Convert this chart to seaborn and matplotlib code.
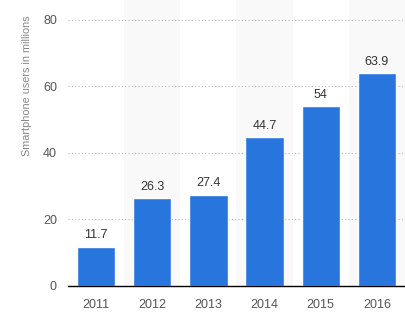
import matplotlib
matplotlib.use("Agg")
import matplotlib.pyplot as plt
import seaborn as sns
import pandas as pd

years = ["2011", "2012", "2013", "2014", "2015", "2016"]
users = [11.7, 26.3, 27.4, 44.7, 54, 63.9]
yticks = [0, 20, 40, 60, 80]

sns.set_style("white")
plt.rcParams["font.family"] = ["Liberation Sans", "DejaVu Sans"]

df = pd.DataFrame({"year": years, "users": users})

fig = plt.figure(figsize=(4.06, 3.26), dpi=100)
ax = fig.add_axes([68/406, 40/326, 337/406, 286/326])

for i in range(len(years)):
    if i % 2 == 1:
        ax.axvspan(i - 0.5, i + 0.5, color="#f9f9f9", zorder=0, lw=0)

sns.barplot(data=df, x="year", y="users", color="#2876dd", width=0.68,
            saturation=1, ax=ax, zorder=3)
for c in ax.containers:
    labels = [f"{v:g}" for v in c.datavalues]
    ax.bar_label(c, labels=labels, padding=4, fontsize=9, color="#333333")

ax.set_xlim(-0.5, len(years) - 0.5)
ax.set_ylim(0, 85.9)
ax.set_yticks(yticks)
ax.set_yticklabels([str(t) for t in yticks])
ax.yaxis.grid(True, linestyle=(0, (1, 2)), color="#bbbbbb", linewidth=0.8, zorder=1)
ax.set_axisbelow(True)
for s in ["top", "right", "left"]:
    ax.spines[s].set_visible(False)
ax.spines["bottom"].set_color("#000000")
ax.spines["bottom"].set_linewidth(1.0)
ax.spines["bottom"].set_zorder(5)
ax.tick_params(axis="both", length=0, labelsize=9, labelcolor="#555555")
ax.tick_params(axis="x", pad=9)
ax.tick_params(axis="y", pad=8)
ax.set_xlabel("")
ax.set_ylabel("Smartphone users in millions", fontsize=7.8, color="#888888")
ax.yaxis.set_label_coords(-0.107, 0.70)

fig.savefig("out.png", dpi=100)
